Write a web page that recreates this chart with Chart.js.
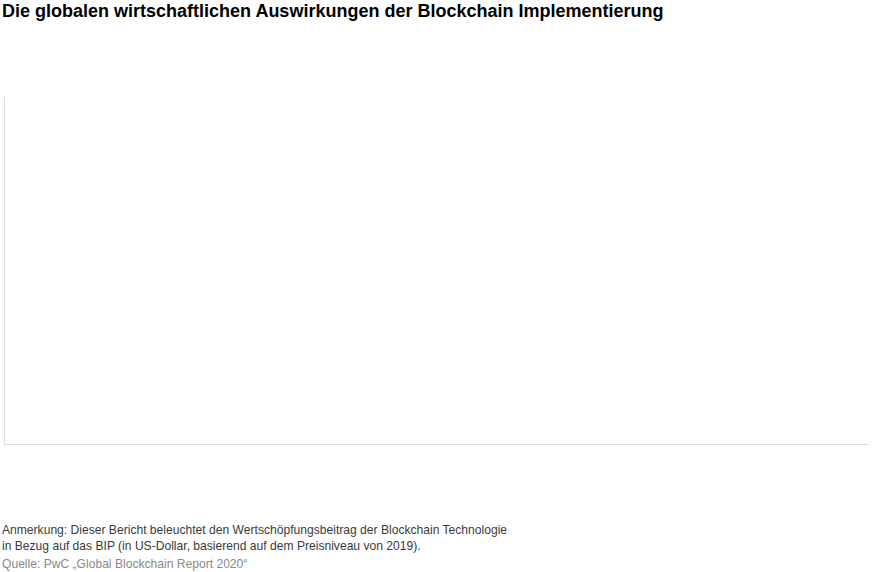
<!DOCTYPE html>
<html>
<head>
<meta charset="utf-8">
<script src="https://cdn.jsdelivr.net/npm/chart.js@4"></script>
<style>
  html, body { margin: 0; padding: 0; background: #fff; width: 885px; height: 572px; overflow: hidden; }
  body { font-family: "Liberation Sans", Arial, Helvetica, sans-serif; position: relative; }
  #title { position: absolute; left: 2px; top: 0px; font-size: 18px; line-height: 22px; font-weight: bold; color: #000; }
  #wrap { position: absolute; left: 0px; top: 92px; width: 873px; height: 357px; }
  #note { position: absolute; left: 2px; top: 523px; font-size: 12.1px; line-height: 15.5px; color: #3a3a3a; }
  #src { position: absolute; left: 2px; top: 557px; font-size: 12.1px; color: #888; }
</style>
</head>
<body>
<div id="title">Die globalen wirtschaftlichen Auswirkungen der Blockchain Implementierung</div>
<div id="wrap"><canvas id="c"></canvas></div>
<div id="note">Anmerkung: Dieser Bericht beleuchtet den Wertschöpfungsbeitrag der Blockchain Technologie<br>in Bezug auf das BIP (in US-Dollar, basierend auf dem Preisniveau von 2019).</div>
<div id="src">Quelle: PwC „Global Blockchain Report 2020“</div>
<script>
const categories = [];
const values = [];
const tickLabels = [];

new Chart(document.getElementById('c'), {
  type: 'bar',
  data: { labels: categories, datasets: [{ data: values, backgroundColor: '#1f4e79' }] },
  options: {
    responsive: true,
    maintainAspectRatio: false,
    animation: false,
    layout: { padding: { left: 4, top: 5, right: 5, bottom: 5 } },
    plugins: { legend: { display: false }, tooltip: { enabled: false }, title: { display: false } },
    scales: {
      x: { type: 'category', labels: tickLabels, grid: { display: false, drawTicks: false }, ticks: { display: false }, border: { display: true, color: '#dddddd', width: 1 } },
      y: { grid: { display: false, drawTicks: false }, ticks: { display: false }, border: { display: true, color: '#dddddd', width: 1 } }
    }
  }
});
</script>
</body>
</html>
